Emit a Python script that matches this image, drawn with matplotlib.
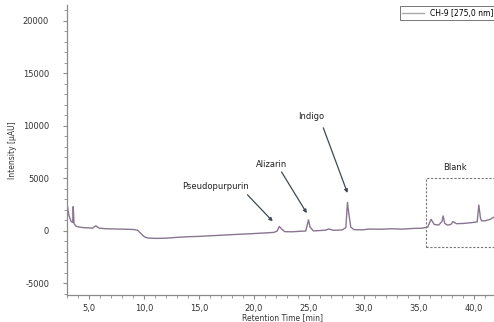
import matplotlib
matplotlib.use("Agg")
import matplotlib.pyplot as plt
from matplotlib.patches import Rectangle
from matplotlib.ticker import MultipleLocator, FuncFormatter

# chromatogram trace (retention time [min], intensity [uAU])
times = [3.0, 3.15, 3.35, 3.5, 3.55, 3.62, 3.8, 4.0, 4.5, 5.0, 5.3, 5.6, 5.9, 6.5,
         7.5, 8.5, 9.1, 9.4, 9.7, 10.0, 10.3, 11.0, 12.0, 13.0, 14.0, 15.0, 16.0,
         17.0, 18.0, 19.0, 20.0, 21.0, 21.8, 22.1, 22.3, 22.5, 22.8, 23.5, 24.2,
         24.7, 24.85, 24.95, 25.1, 25.4, 26.0, 26.5, 26.8, 27.2, 28.0, 28.35, 28.5,
         28.6, 28.8, 29.1, 29.8, 30.5, 31.5, 32.5, 33.5, 34.5, 35.3, 35.8, 36.1,
         36.4, 36.8, 37.1, 37.2, 37.35, 37.6, 37.9, 38.1, 38.4, 39.0, 39.8, 40.3,
         40.45, 40.6, 40.7, 41.0, 41.5, 41.9, 42.1]
intensity = [2500, 1500, 900, 800, 2300, 700, 450, 380, 300, 280, 250, 480, 260, 200,
             170, 150, 120, 60, -250, -550, -680, -720, -700, -620, -560, -530, -470,
             -420, -360, -310, -260, -200, -150, -20, 420, 180, -80, -90, -40,
             -20, 600, 1050, 350, -10, 30, 60, 180, 50, 80, 300, 2700,
             1800, 350, 110, 90, 170, 150, 200, 160, 230, 250, 350, 1100,
             600, 550, 900, 1420, 700, 550, 600, 880, 680, 700, 780, 850,
             2450, 1200, 950, 950, 1100, 1350, 1300]

# peak labels: text, text position, arrow start, arrow tip
peak_names = ["Pseudopurpurin", "Alizarin", "Indigo"]
peak_text_xy = [(16.5, 4200), (21.6, 6350), (25.2, 10850)]
peak_arrow_from = [(19.4, 3430), (22.5, 5600), (26.3, 9800)]
peak_tip_xy = [(21.7, 900), (24.8, 1680), (28.5, 3600)]

blank_x0, blank_y0, blank_y1 = 35.6, -1550, 5000

grey = "#8c8c8c"

fig = plt.figure(figsize=(4.94, 3.22), dpi=100)
ax = fig.add_axes([0.136, 0.084, 0.87, 0.901])

ax.plot(times, intensity, color="#8a7590", lw=1.0, label="CH-9 [275,0 nm]")

ax.set_xlim(3.0, 42.1)
ax.set_ylim(-6100, 21500)

ax.xaxis.set_major_locator(MultipleLocator(5))
ax.xaxis.set_minor_locator(MultipleLocator(1))
ax.yaxis.set_major_locator(MultipleLocator(5000))
ax.yaxis.set_minor_locator(MultipleLocator(1000))
ax.xaxis.set_major_formatter(FuncFormatter(lambda v, p: f"{v:.1f}".replace(".", ",")))
ax.yaxis.set_major_formatter(FuncFormatter(lambda v, p: f"{int(v)}"))

for s in ["top", "right"]:
    ax.spines[s].set_visible(False)
for s in ["left", "bottom"]:
    ax.spines[s].set_color(grey)
    ax.spines[s].set_linewidth(0.9)
ax.tick_params(which="both", direction="out", color=grey, labelsize=6, labelcolor="#333333")
ax.tick_params(which="major", length=3)
ax.tick_params(which="minor", length=2)
ax.tick_params(axis="y", pad=10)

ax.set_xlabel("Retention Time [min]", fontsize=5.5, color="#333333", labelpad=0)
ax.set_ylabel("Intensity [µAU]", fontsize=5.5, color="#333333", labelpad=4)

for name, txy, start, tip in zip(peak_names, peak_text_xy, peak_arrow_from, peak_tip_xy):
    ax.text(txy[0], txy[1], name, fontsize=6, color="#222222", ha="center", va="center")
    ax.annotate("", xy=tip, xytext=start,
                arrowprops=dict(arrowstyle="-|>", color="#3d4a55", lw=0.9,
                                mutation_scale=5, shrinkA=0, shrinkB=0))

ax.add_patch(Rectangle((blank_x0, blank_y0), 10, blank_y1 - blank_y0, fill=False,
                       ls=(0, (2, 1.5)), lw=0.8, ec="#777777"))
ax.text(38.3, 6000, "Blank", fontsize=6, color="#222222", ha="center", va="center")

leg = ax.legend(loc="upper right", bbox_to_anchor=(1.0, 1.0), fontsize=5.5,
                frameon=True, fancybox=False, handlelength=2.8, borderpad=0.35,
                borderaxespad=0.15)
leg.get_frame().set_edgecolor("#555555")
leg.get_frame().set_linewidth(0.7)
leg.get_lines()[0].set_color("#aaaaaa")

fig.savefig("out.png", dpi=100)
